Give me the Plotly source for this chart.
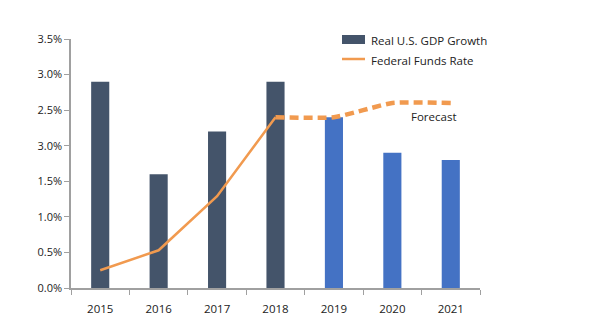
import plotly.graph_objects as go

years = ["2015", "2016", "2017", "2018", "2019", "2020", "2021"]
gdp_growth = [2.9, 1.6, 2.2, 2.9, 2.4, 1.9, 1.8]
gdp_colors = ["#44546A"] * 4 + ["#4472C4"] * 3

ffr_years = ["2015", "2016", "2017", "2018"]
ffr_actual = [0.25, 0.53, 1.29, 2.4]
fcst_years = ["2018", "2019", "2020", "2021"]
ffr_forecast = [2.4, 2.4, 2.6, 2.6]

ytick_vals = [0.0, 0.5, 1.0, 1.5, 2.0, 2.5, 3.0, 3.5]
ytick_text = ["0.0%", "0.5%", "1.0%", "1.5%", "3.0%", "2.5%", "3.0%", "3.5%"]

FONT = "Open Sans"
ORANGE = "#F19A4F"

pos = {y: i for i, y in enumerate(years)}

fig = go.Figure()
fig.add_trace(go.Bar(
    x=[pos[y] for y in years], y=gdp_growth,
    marker=dict(color=gdp_colors, line=dict(width=0)),
    width=0.31, name="Real U.S. GDP Growth", showlegend=False,
))
fig.add_trace(go.Scatter(
    x=[pos[y] for y in ffr_years], y=ffr_actual, mode="lines",
    line=dict(color=ORANGE, width=2.5), showlegend=False,
))
fig.add_trace(go.Scatter(
    x=[pos[y] for y in fcst_years], y=ffr_forecast, mode="lines",
    line=dict(color=ORANGE, width=4.5, dash="9px,5px", shape="spline", smoothing=0.5),
    showlegend=False,
))

# legend drawn by hand in paper coordinates
fig.add_shape(type="rect", xref="paper", yref="paper",
              x0=(342 - 71) / 409, x1=(365 - 71) / 409,
              y0=(288 - 44) / 249, y1=(288 - 35) / 249,
              fillcolor="#44546A", line=dict(width=0))
fig.add_shape(type="line", xref="paper", yref="paper",
              x0=(342 - 71) / 409, x1=(365 - 71) / 409,
              y0=(288 - 59) / 249, y1=(288 - 59) / 249,
              line=dict(color=ORANGE, width=2.5))
fig.add_annotation(xref="paper", yref="paper", x=(369 - 71) / 409, y=(288 - 40) / 249,
                   text="Real U.S. GDP Growth", showarrow=False, xanchor="left", yanchor="middle",
                   font=dict(family=FONT, size=11.5, color="#222222"))
fig.add_annotation(xref="paper", yref="paper", x=(369 - 71) / 409, y=(288 - 60) / 249,
                   text="Federal Funds Rate", showarrow=False, xanchor="left", yanchor="middle",
                   font=dict(family=FONT, size=11.5, color="#222222"))
fig.add_annotation(x=pos["2020"], y=2.4, text="Forecast", showarrow=False,
                   xanchor="left", yanchor="middle", xshift=17, yshift=1,
                   font=dict(family=FONT, size=11.5, color="#222222"))

fig.update_layout(
    width=600, height=334,
    margin=dict(l=71, r=120, t=39, b=46),
    paper_bgcolor="white", plot_bgcolor="white",
    font=dict(family=FONT, size=11, color="#222222"),
)
fig.update_xaxes(
    range=[-0.5, len(years) - 0.5],
    tickvals=list(range(len(years))), ticktext=years, ticks="",
    ticklabelstandoff=9,
    minor=dict(tickvals=[i - 0.5 for i in range(len(years) + 1)],
               ticks="outside", ticklen=5, tickcolor="#A0A0A0", showgrid=False),
    showgrid=False, zeroline=False, showline=True, linecolor="#A0A0A0", linewidth=1.5,
    tickfont=dict(family=FONT, size=11.5, color="#222222"),
)
fig.update_yaxes(
    range=[0, 3.5], tickvals=ytick_vals, ticktext=ytick_text,
    showgrid=False, zeroline=False, showline=True, linecolor="#A0A0A0", linewidth=1.5,
    ticks="outside", ticklen=5, tickcolor="#A0A0A0",
    tickfont=dict(family=FONT, size=11, color="#222222"),
)

fig.write_html("out.html")
